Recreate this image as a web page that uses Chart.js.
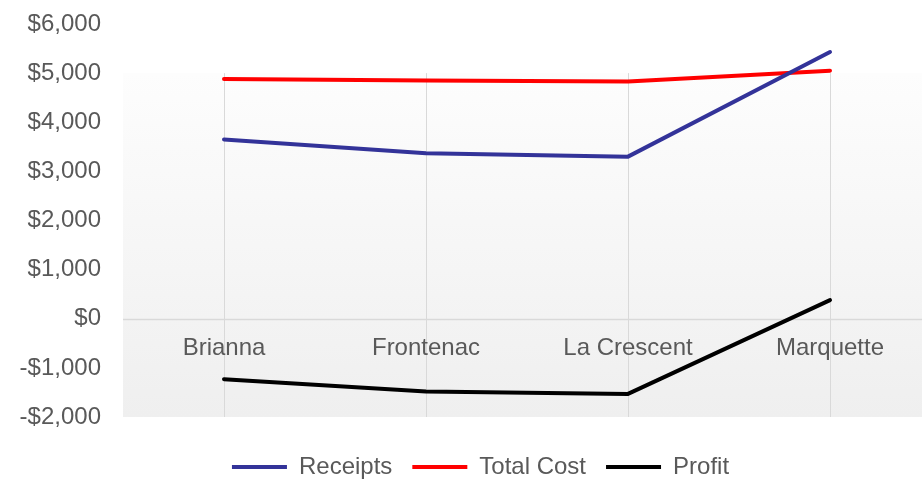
<!DOCTYPE html>
<html>
<head>
<meta charset="utf-8">
<script src="https://cdn.jsdelivr.net/npm/chart.js@4/dist/chart.umd.min.js"></script>
<style>
  html, body { margin: 0; padding: 0; background: #fff; overflow: hidden; }
  #wrap { width: 931px; height: 479px; position: relative; }
</style>
</head>
<body>
<div id="wrap"><canvas id="myChart"></canvas></div>
<script>
// data
var varieties = ['Brianna', 'Frontenac', 'La Crescent', 'Marquette'];
var receipts = [3650, 3370, 3300, 5430];
var totalCost = [4880, 4850, 4830, 5050];
var profit = [-1230, -1480, -1530, 380];
var yTicks = [-2000, -1000, 0, 1000, 2000, 3000, 4000, 5000, 6000];

var textColor = '#595959';
var gridColor = '#d9d9d9';
var fontSize = 24;

function money(v) {
  var s = '$' + Math.abs(v).toLocaleString('en-US');
  return v < 0 ? '-' + s : s;
}

// plot background (gradient) + grid lines, drawn before the scales
var plotArea = {
  id: 'plotArea',
  afterLayout: function(chart) {
    // nudge the legend to where the original has it
    var lg = chart.legend;
    lg.left += 15; lg.right += 15;
    lg.top += 18; lg.bottom += 18;
  },
  beforeDraw: function(chart) {
    var ctx = chart.ctx, a = chart.chartArea;
    var x = chart.scales.x, y = chart.scales.y;
    var top = y.getPixelForValue(5000);
    var g = ctx.createLinearGradient(0, top, 0, a.bottom);
    g.addColorStop(0, '#fdfdfd');
    g.addColorStop(1, '#efefef');
    ctx.save();
    ctx.fillStyle = g;
    ctx.fillRect(a.left, top, a.right - a.left, a.bottom - top);
    ctx.strokeStyle = gridColor;
    ctx.lineWidth = 1.5;
    var z = Math.round(y.getPixelForValue(0)) + 0.5;
    ctx.beginPath();
    ctx.moveTo(a.left, z);
    ctx.lineTo(a.right, z);
    ctx.stroke();
    ctx.lineWidth = 1;
    varieties.forEach(function(v, i) {
      var px = Math.round(x.getPixelForValue(i)) + 0.5;
      ctx.beginPath();
      ctx.moveTo(px, top);
      ctx.lineTo(px, a.bottom);
      ctx.stroke();
    });
    ctx.restore();
  }
};

var ctx = document.getElementById('myChart');
var chart = new Chart(ctx, {
  type: 'line',
  data: {
    labels: varieties,
    datasets: [
      { label: 'Receipts', data: receipts, borderColor: '#333399', backgroundColor: '#333399' },
      { label: 'Total Cost', data: totalCost, borderColor: '#ff0000', backgroundColor: '#ff0000' },
      { label: 'Profit', data: profit, borderColor: '#000000', backgroundColor: '#000000' }
    ]
  },
  options: {
    responsive: true,
    maintainAspectRatio: false,
    animation: false,
    layout: { padding: { left: 0, top: 24, right: 0, bottom: 8 } },
    elements: {
      line: { borderWidth: 4, tension: 0, borderCapStyle: 'round', borderJoinStyle: 'round' },
      point: { radius: 0, hoverRadius: 0 }
    },
    scales: {
      x: {
        position: { y: 0 },
        offset: true,
        grid: { display: false, drawTicks: false },
        border: { display: false },
        ticks: { color: textColor, font: { family: 'Liberation Sans', size: fontSize }, padding: 15 }
      },
      y: {
        min: yTicks[0],
        max: yTicks[yTicks.length - 1],
        afterBuildTicks: function(axis) {
          axis.ticks = yTicks.map(function(v) { return { value: v }; });
        },
        afterFit: function(axis) {
          axis.width = 123;
          axis.paddingTop = 12;
          axis.paddingBottom = 12;
        },
        grid: { display: false, drawTicks: false },
        border: { display: false },
        ticks: {
          color: textColor,
          font: { family: 'Liberation Sans', size: fontSize },
          padding: 22,
          callback: function(v) { return money(v); }
        }
      }
    },
    plugins: {
      tooltip: { enabled: false },
      legend: {
        position: 'bottom',
        labels: {
          color: textColor,
          font: { family: 'Liberation Sans', size: fontSize },
          boxWidth: 55,
          boxHeight: 4,
          padding: 20,
          generateLabels: function(c) {
            return Chart.defaults.plugins.legend.labels.generateLabels(c).map(function(l) {
              l.lineWidth = 0;
              return l;
            });
          }
        }
      }
    }
  },
  plugins: [plotArea]
});
</script>
</body>
</html>
